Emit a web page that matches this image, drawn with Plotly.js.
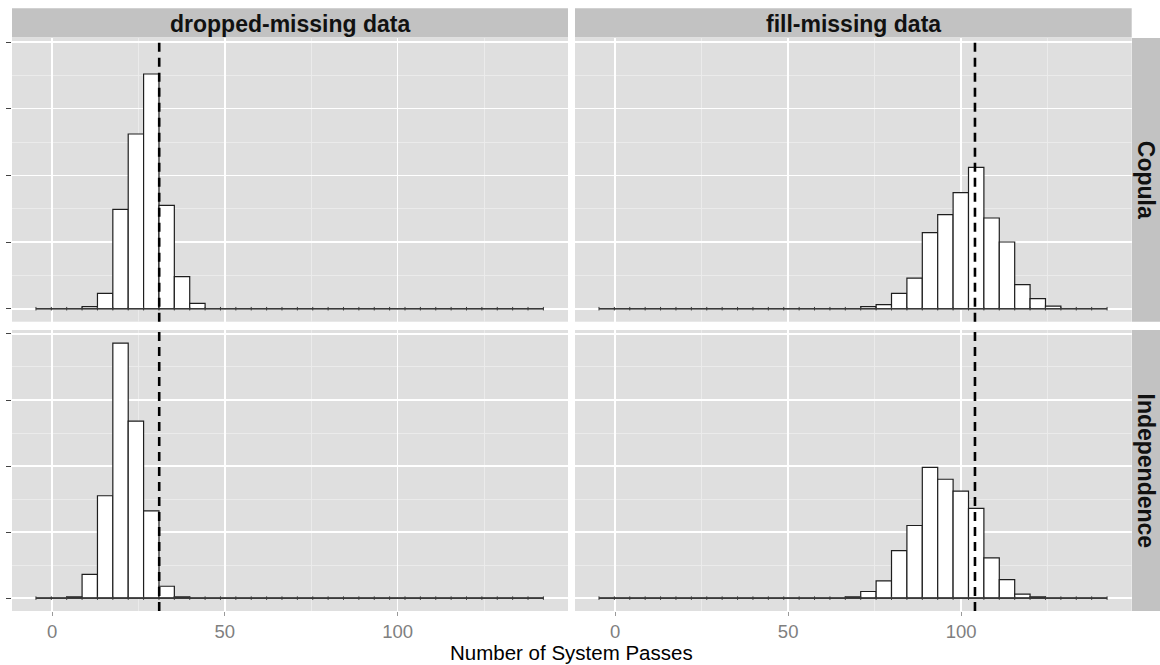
<!DOCTYPE html>
<html><head><meta charset="utf-8">
<script src="https://cdn.plot.ly/plotly-3.0.1.min.js"></script>
<style>html,body{margin:0;padding:0;background:#fff}#chart{width:1160px;height:665px}</style>
</head><body><div id="chart"></div>
<script>
// Histogram bins (left edges) shared by all facets
const binLeft = [-4.67, -0.22, 4.23, 8.68, 13.13, 17.58, 22.03, 26.48, 30.93, 35.38, 39.83,
  44.28, 48.73, 53.18, 57.63, 62.08, 66.53, 70.98, 75.43, 79.88, 84.33, 88.78, 93.23,
  97.68, 102.13, 106.58, 111.03, 115.48, 119.93, 124.38, 128.83, 133.28, 137.73];
const binWidth = 4.45;

// Counts per bin (1000 simulations per facet)
const droppedCopula = [0, 0, 0, 3, 23, 149, 262, 352, 155, 48, 8,
  0, 0, 0, 0, 0, 0, 0, 0, 0, 0, 0, 0, 0, 0, 0, 0, 0, 0, 0, 0, 0, 0];
const droppedIndependence = [0, 0, 2, 36, 155, 386, 268, 132, 18, 2,
  0, 0, 0, 0, 0, 0, 0, 0, 0, 0, 0, 0, 0, 0, 0, 0, 0, 0, 0, 0, 0, 0, 0];
const fillCopula = [0, 0, 0, 0, 0, 0, 0, 0, 0, 0, 0, 0, 0, 0, 0, 0, 0,
  3, 6, 23, 46, 114, 141, 174, 212, 136, 100, 36, 15, 4, 0, 0, 0];
const fillIndependence = [0, 0, 0, 0, 0, 0, 0, 0, 0, 0, 0, 0, 0, 0, 0, 0,
  2, 10, 26, 72, 110, 198, 180, 162, 136, 61, 28, 6, 2, 0, 0, 0, 0];

// Observed values (dashed reference lines)
const observedDropped = 31;
const observedFill = 104;

const colLabels = ["dropped-missing data", "fill-missing data"];
const rowLabels = ["Copula", "Independence"];
const xTickVals = [0, 50, 100];
const xTickText = ["0", "50", "100"];
const xTitle = "Number of System Passes";

const FONT = "Liberation Sans, Arial, Helvetica, sans-serif";
const binMid = binLeft.map(v => v + binWidth / 2);
const edges = binLeft.concat([binLeft[binLeft.length - 1] + binWidth]);

const panels = [
  {counts: droppedCopula, xa: "x", ya: "y"},
  {counts: fillCopula, xa: "x2", ya: "y2"},
  {counts: droppedIndependence, xa: "x3", ya: "y3"},
  {counts: fillIndependence, xa: "x4", ya: "y4"}
];

const traces = [];
panels.forEach(p => {
  traces.push({
    type: "bar", x: binMid, y: p.counts, width: binWidth,
    xaxis: p.xa, yaxis: p.ya,
    marker: {color: "#ffffff", line: {color: "#1e1e1e", width: 1.2}},
    hoverinfo: "x+y", showlegend: false
  });
  traces.push({
    type: "scatter", mode: "lines+markers", x: edges, y: edges.map(() => 0),
    xaxis: p.xa, yaxis: p.ya,
    line: {color: "#3a3a3a", width: 1.6},
    marker: {symbol: "line-ns-open", size: 2.5, line: {color: "#666", width: 1}},
    hoverinfo: "skip", showlegend: false
  });
});

const colX = [[12 / 1160, 568 / 1160], [575 / 1160, 1131.7 / 1160]];
const rowY = [[1 - 321.7 / 665, 1 - 38 / 665], [1 - 611 / 665, 1 - 330 / 665]];
const xRange = [-11.6, 149.3];
const yRange = [-19.5, 406];

function xAxis(col, row) {
  const bottom = row === 1;
  return {
    domain: colX[col], range: xRange, anchor: ["y", "y2", "y3", "y4"][row * 2 + col],
    showgrid: true, gridcolor: "#ffffff", gridwidth: 1.6, zeroline: false, showline: false,
    tickmode: "array", tickvals: xTickVals, ticktext: xTickText,
    ticks: bottom ? "outside" : "", ticklen: 4, tickwidth: 1, tickcolor: "#9a9a9a",
    showticklabels: bottom, tickfont: {family: FONT, size: 18.5, color: "#7f7f7f"},
    minor: {dtick: 25, tick0: 0, showgrid: true, gridcolor: "#ececec", gridwidth: 0.9, ticks: ""},
    fixedrange: true
  };
}
function yAxis(col, row) {
  const left = col === 0;
  return {
    domain: rowY[row], range: yRange, anchor: ["x", "x2", "x3", "x4"][row * 2 + col],
    showgrid: true, gridcolor: "#ffffff", gridwidth: 1.6, zeroline: false, showline: false,
    dtick: 100, tick0: 0,
    ticks: left ? "outside" : "", ticklen: 5, tickwidth: 1, tickcolor: "#444",
    showticklabels: false,
    minor: {dtick: 50, tick0: 0, showgrid: true, gridcolor: "#ececec", gridwidth: 0.9, ticks: ""},
    fixedrange: true
  };
}

const shapes = [];
// top strips
colX.forEach(d => shapes.push({type: "rect", xref: "paper", yref: "paper",
  x0: d[0], x1: d[1], y0: 1 - 37.6 / 665, y1: 1 - 8.3 / 665,
  fillcolor: "#c2c2c2", line: {width: 0}, layer: "below"}));
// right strips
rowY.forEach(d => shapes.push({type: "rect", xref: "paper", yref: "paper",
  x0: 1132 / 1160, x1: 1, y0: d[0], y1: d[1],
  fillcolor: "#c2c2c2", line: {width: 0}, layer: "below"}));
// dashed observed lines
[["x", observedDropped], ["x2", observedFill], ["x3", observedDropped], ["x4", observedFill]].forEach((s, i) => {
  shapes.push({type: "line", xref: s[0], yref: ["y", "y2", "y3", "y4"][i] + " domain",
    x0: s[1], x1: s[1], y0: 0, y1: 1,
    line: {color: "#000", width: 2.6, dash: "9px,6px"}});
});

const annotations = [];
colLabels.forEach((t, i) => annotations.push({
  text: t, xref: "paper", yref: "paper", x: (colX[i][0] + colX[i][1]) / 2, y: 1 - 23.5 / 665,
  xanchor: "center", yanchor: "middle", showarrow: false,
  font: {family: FONT, size: 23, color: "#111", weight: "bold"}
}));
rowLabels.forEach((t, i) => annotations.push({
  text: t, xref: "paper", yref: "paper", x: 1146 / 1160, y: (rowY[i][0] + rowY[i][1]) / 2,
  xanchor: "center", yanchor: "middle", showarrow: false, textangle: 90,
  font: {family: FONT, size: 23, color: "#111", weight: "bold"}
}));
annotations.push({
  text: xTitle, xref: "paper", yref: "paper", x: 571 / 1160, y: 1 - 652 / 665,
  xanchor: "center", yanchor: "middle", showarrow: false, borderpad: 0,
  font: {family: FONT, size: 20.5, color: "#000"}
});

const layout = {
  width: 1160, height: 665, margin: {l: 0, r: 0, t: 0, b: 0},
  paper_bgcolor: "#ffffff", plot_bgcolor: "#dfdfdf",
  showlegend: false, barmode: "overlay",
  xaxis: xAxis(0, 0), xaxis2: xAxis(1, 0), xaxis3: xAxis(0, 1), xaxis4: xAxis(1, 1),
  yaxis: yAxis(0, 0), yaxis2: yAxis(1, 0), yaxis3: yAxis(0, 1), yaxis4: yAxis(1, 1),
  shapes: shapes, annotations: annotations,
  font: {family: FONT}
};

Plotly.newPlot("chart", traces, layout, {displayModeBar: false, staticPlot: true});
</script>
</body></html>
